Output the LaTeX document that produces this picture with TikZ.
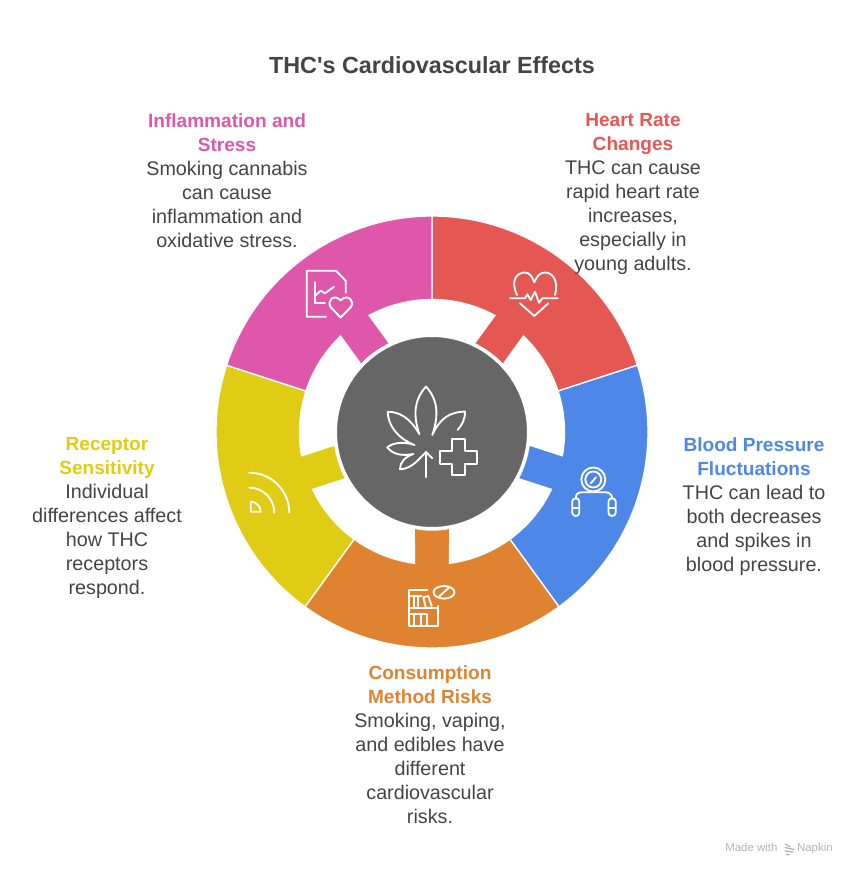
\documentclass[tikz,border=0pt]{standalone}
\usepackage{fontspec}
\setmainfont{Liberation Sans}
\definecolor{heartred}{HTML}{E55753}
\definecolor{bloodblue}{HTML}{4D87E8}
\definecolor{methodorange}{HTML}{DF8330}
\definecolor{receptoryellow}{HTML}{E0CB15}
\definecolor{stresspink}{HTML}{DF57AB}
\definecolor{hubgrey}{HTML}{666666}
\definecolor{bodygrey}{HTML}{444444}
\definecolor{footgrey}{HTML}{B4B4B4}
\newcommand{\headtext}[2]{\textcolor{#1}{\fontsize{14.3}{18}\selectfont\textbf{#2}}}

\begin{document}
\begin{tikzpicture}[x=0.75pt, y=0.75pt,
    label/.style={anchor=north, align=center, inner sep=0pt, text=bodygrey,
                  font=\fontsize{14.8}{18}\selectfont},
    foot/.style={inner sep=0pt, text=footgrey, font=\fontsize{8.6}{10}\selectfont},
    iconline/.style={draw=white, line width=1.4pt, line cap=round, line join=round}]
      \useasboundingbox (0,0) rectangle (858,876);

      \foreach \ang/\col in {54/heartred, -18/bloodblue, -90/methodorange, 198/receptoryellow, 126/stresspink}
        \fill[\col, draw=white, line width=1pt, shift={(432,444)}, rotate=\ang]
          (36:216) arc[start angle=36, end angle=-36, radius=216]
          -- (-36:132.5) arc[start angle=-36, end angle=-7.65, radius=132.5]
          -- (-10.4:98) arc[start angle=-10.4, end angle=10.4, radius=98]
          -- (7.65:132.5) arc[start angle=7.65, end angle=36, radius=132.5] -- cycle;

      \node[circle, fill=hubgrey, draw=white, line width=1.5pt, minimum size=144pt, inner sep=0pt] (hub) at (432,444) {};

      \node[anchor=base, inner sep=0pt, text=bodygrey, font=\fontsize{17.5}{22}\selectfont\bfseries] (title) at (432,802) {THC\textquotesingle s Cardiovascular Effects};

      \node[label] (heartrate) at (633,763) {\headtext{heartred}{Heart Rate}\\\headtext{heartred}{Changes}\\THC can cause\\rapid heart rate\\increases,\\especially in\\young adults.};
      \node[label] (bloodpressure) at (754,439) {\headtext{bloodblue}{Blood Pressure}\\\headtext{bloodblue}{Fluctuations}\\THC can lead to\\both decreases\\and spikes in\\blood pressure.};
      \node[label] (consumption) at (430,211) {\headtext{methodorange}{Consumption}\\\headtext{methodorange}{Method Risks}\\Smoking, vaping,\\and edibles have\\different\\cardiovascular\\risks.};
      \node[label] (receptor) at (107,439) {\headtext{receptoryellow}{Receptor}\\\headtext{receptoryellow}{Sensitivity}\\Individual\\differences affect\\how THC\\receptors\\respond.};
      \node[label] (inflammation) at (227,763) {\headtext{stresspink}{Inflammation and}\\\headtext{stresspink}{Stress}\\Smoking cannabis\\can cause\\inflammation and\\oxidative stress.};

      \node[foot, anchor=base west] (madewith) at (725,24) {Made with};
      \node[foot, anchor=base east] (napkin) at (833,24) {Napkin};

      \begin{scope}[shift={(0,876)}, yscale=-1, iconline]
        \draw (419.3,434) .. controls (413,415) and (414,400) .. (426,386.5)
              .. controls (438,400) and (439,415) .. (432.3,435)
              .. controls (440,418) and (450,412) .. (465,411.5)
              .. controls (465,420) and (462,425) .. (457.5,430);
        \draw (419.3,434) .. controls (410,418) and (400,412) .. (387.7,411.7)
              .. controls (388,425) and (397,438) .. (414.5,445)
              .. controls (402,441) and (393,443) .. (387.3,447.3)
              .. controls (393,455) and (403,456) .. (413.3,454)
              .. controls (405,457) and (400,462) .. (400,469.3)
              .. controls (408,469) and (415,464) .. (421,457);
        \draw (426,477.3) -- (426,452) (420,458.3) -- (426,452) -- (432.3,458.3);
        \draw (451.7,439) -- (465,439) -- (465,450.7) -- (476.7,450.7) -- (476.7,464) -- (465,464)
              -- (465,475) -- (451.7,475) -- (451.7,464) -- (440,464) -- (440,450.7) -- (451.7,450.7) -- cycle;

        \draw (517,295) .. controls (510,280) and (517,272.5) .. (525,272.5)
              .. controls (529,272.5) and (532,276) .. (534.3,282.3)
              .. controls (537,276) and (540,272.5) .. (545,272.5)
              .. controls (552,272.5) and (559,280) .. (555,295);
        \draw (510,298.3) -- (525,298.3) -- (527.3,294.3) -- (530.7,300) -- (535,291.7) -- (539,302.7) -- (542.3,298.3) -- (557.7,298.3);
        \draw (520,303.3) -- (534.3,316) -- (548.3,303.3);

        \draw (326,316.7) -- (306.7,316.7) -- (306.7,270.7) -- (336,270.7) -- (345.7,280.7) -- (345.7,292.7);
        \draw (315,282.3) -- (315,302.7) -- (325,302.7);
        \draw (315,296) -- (320.7,290.7) -- (325,293.3) -- (334,286.7);
        \draw (340.7,317.5) -- (331,307.5) .. controls (326,301) and (334,293) .. (340.7,300.5)
              .. controls (347,293) and (356,301) .. (350.5,307.5) -- cycle;

        \draw (593.3,479.5) circle[radius=12] (593.3,479.5) circle[radius=8];
        \draw (590.7,483.3) -- (596,477.3);
        \draw[rounded corners=2.5] (572.3,498.3) rectangle (579.3,516);
        \draw[rounded corners=2.5] (608.5,498.3) rectangle (615.7,516);
        \draw (572.3,508) -- (579.3,508) (608.5,508) -- (615.7,508);
        \draw (575.8,498.3) .. controls (575.8,494) and (578,492.3) .. (581.7,492.3) -- (605,492.3)
              .. controls (609,492.3) and (612,494) .. (612,498.3);

        \draw (427.3,590) -- (409.3,590) -- (409.3,626) -- (437.7,626) -- (437.7,606);
        \draw (409.3,608.3) -- (437.7,608.3);
        \draw (409.3,596) -- (421.7,596) (414,596) -- (414,608.3) (418.3,596) -- (418.3,608.3);
        \draw (423.3,597.3) -- (428.3,596) -- (431.7,606) (423.3,597.3) -- (426,608.3);
        \draw (409.3,614.3) -- (426.7,614.3) (414,614.3) -- (414,626) (420.7,614.3) -- (420.7,626) (426.7,614.3) -- (426.7,626);
        \draw (444,592.3) ellipse[x radius=10.5, y radius=6.3];
        \draw (438.3,597.3) -- (449.3,587.3);

        \draw (249.3,472.7) arc[start angle=-90, end angle=0, radius=40];
        \draw (249.3,487.7) arc[start angle=-90, end angle=0, radius=25];
        \draw (250.7,501.7) arc[start angle=-90, end angle=0, radius=10] -- (250.7,511.7) -- cycle;

        \draw[footgrey, line width=1pt] (785,844) -- (790,846.5) (785,847.5) -- (794,849.5) (785,851) -- (793,852) (786,854) -- (789,855);
      \end{scope}
    \end{tikzpicture}
\end{document}
